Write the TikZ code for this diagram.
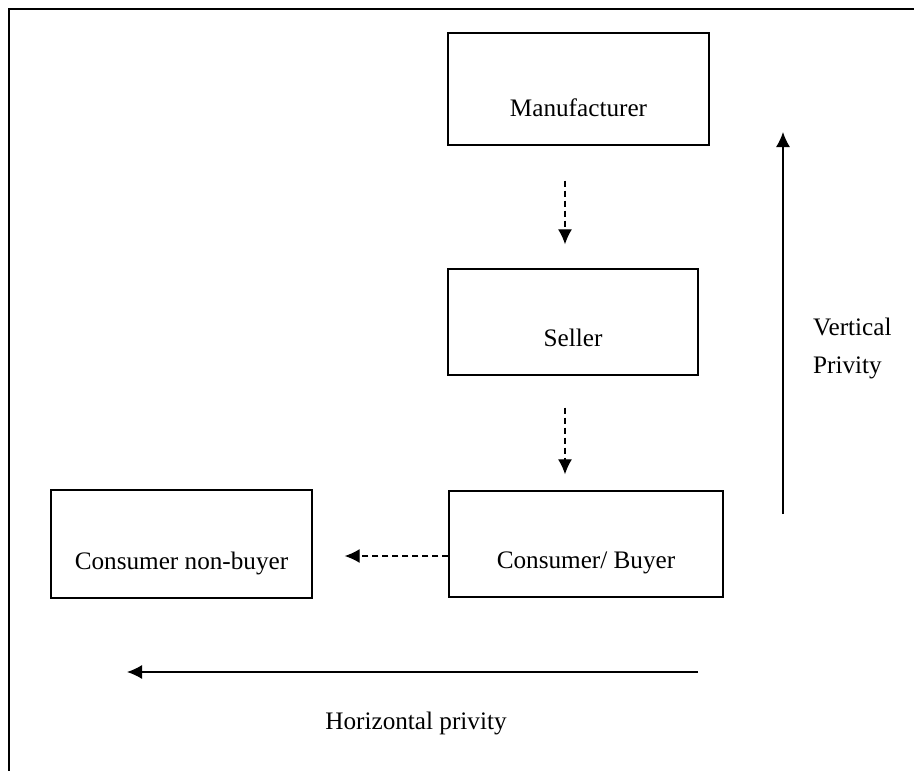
\documentclass[tikz,border=0pt]{standalone}
\usepackage{fontspec}
\setmainfont{Liberation Serif}
\usetikzlibrary{arrows.meta,positioning}

\tikzset{
	box/.style={draw, line width=1.4pt, inner sep=0pt, text depth=29pt},
	flow/.style={-{Latex[length=15pt,width=14pt]}, line width=1.3pt, dash pattern=on 6pt off 4pt},
	privity/.style={-{Latex[length=15pt,width=14pt]}, line width=1.4pt}
}

\begin{document}
\begin{tikzpicture}[x=1pt, y=-1pt, font=\fontsize{25.2}{38}\selectfont]
	\useasboundingbox (0,0) rectangle (914,771);
	\draw[line width=2pt] (9,771) -- (9,9) -- (914,9);
	
	\node (maker) at (578.5,89) [box, minimum width=261pt, text height=83pt] {Manufacturer};
	\node (seller) at (573,322) [box, minimum width=250pt, text height=77pt] {Seller};
	\node (buyer) at (586,544) [box, minimum width=274pt, text height=77pt] {Consumer/ Buyer};
	\node (user) at (181.5,544) [box, minimum width=261pt, text height=79pt] {Consumer non-buyer};
	
	\draw[flow, shorten <=35pt, shorten >=24pt] ([xshift=-13.5pt]maker.south) -- ([xshift=-8pt]seller.north);
	\draw[flow, shorten <=32pt, shorten >=16pt] ([xshift=-8pt]seller.south) -- ([xshift=-21pt]buyer.north);
	\draw[flow, shorten >=32pt] ([yshift=-12pt]buyer.west) -- ([yshift=-12pt]user.east);
	
	\coordinate (vlow) at (783,514);
	\coordinate (vtop) at (783,132);
	\coordinate (hright) at (698,672);
	\coordinate (hleft) at (127,672);
	\draw[privity] (vlow) -- (vtop);
	\draw[privity] (hright) -- (hleft);
	
	\node (vlabel) at (813,348) [anchor=west, inner sep=0pt, align=left] {Vertical\\Privity};
	\node (hlabel) at (416,723) [inner sep=0pt] {Horizontal privity};
	
\end{tikzpicture}
\end{document}
